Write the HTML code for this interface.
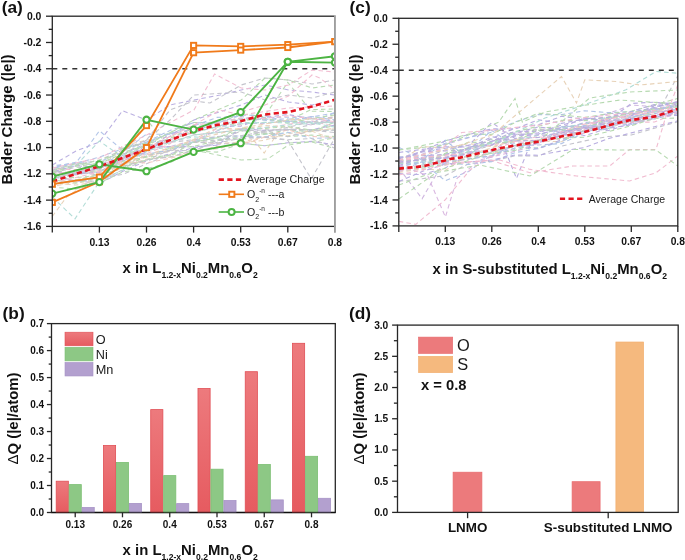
<!DOCTYPE html>
<html><head><meta charset="utf-8"><style>
html,body{margin:0;padding:0;background:#fff;overflow:hidden}
svg{display:block;will-change:transform}
text{font-family:"Liberation Sans",sans-serif}
</style></head><body>
<svg width="685" height="560" viewBox="0 0 685 560" font-family="Liberation Sans, sans-serif">
<rect width="685" height="560" fill="#fff"/>
<clipPath id="cp11"><rect x="52.3" y="16.2" width="282.60" height="210.20"/></clipPath>
<g clip-path="url(#cp11)">
<g fill="none" stroke-width="1.1" stroke-dasharray="4.5 3.2" opacity="0.58">
<polyline points="52.3,170.7 75.8,173.1 99.4,164.6 122.9,157.8 146.5,143.7 170.0,132.5 193.6,122.5 217.1,122.4 240.7,119.2 264.2,119.7 287.8,120.6 311.3,109.6 334.9,109.0" stroke="#86c07c" stroke-dashoffset="2.5"/>
<polyline points="52.3,173.2 75.8,175.0 99.4,169.6 122.9,145.6 146.5,140.1 170.0,136.8 193.6,128.4 217.1,124.7 240.7,124.6 264.2,153.0 287.8,118.4 311.3,122.4 334.9,116.1" stroke="#d8b488" stroke-dashoffset="1.5"/>
<polyline points="52.3,172.6 75.8,165.3 99.4,167.8 122.9,158.1 146.5,148.5 170.0,146.6 193.6,140.4 217.1,130.9 240.7,123.3 264.2,123.6 287.8,121.0 311.3,125.0 334.9,117.1" stroke="#b088cc" stroke-dashoffset="6.6"/>
<polyline points="52.3,176.1 75.8,174.3 99.4,171.8 122.9,163.1 146.5,151.8 170.0,141.9 193.6,136.8 217.1,139.2 240.7,136.3 264.2,134.4 287.8,132.8 311.3,130.1 334.9,130.1" stroke="#7cc4ba" stroke-dashoffset="5.3"/>
<polyline points="52.3,170.6 75.8,166.3 99.4,163.3 122.9,153.9 146.5,146.1 170.0,138.4 193.6,128.2 217.1,123.1 240.7,114.0 264.2,116.6 287.8,82.4 311.3,111.2 334.9,111.5" stroke="#86c07c" stroke-dashoffset="7.5"/>
<polyline points="52.3,176.9 75.8,180.7 99.4,183.5 122.9,171.3 146.5,160.9 170.0,153.7 193.6,147.8 217.1,144.1 240.7,142.9 264.2,145.8 287.8,142.8 311.3,141.4 334.9,144.7" stroke="#8a78cc" stroke-dashoffset="5.3"/>
<polyline points="52.3,171.9 75.8,165.6 99.4,167.9 122.9,161.0 146.5,150.8 170.0,133.8 193.6,129.3 217.1,125.9 240.7,126.2 264.2,117.6 287.8,114.5 311.3,118.6 334.9,117.5" stroke="#8a78cc" stroke-dashoffset="4.7"/>
<polyline points="52.3,173.3 75.8,172.7 99.4,172.6 122.9,163.7 146.5,155.6 170.0,147.8 193.6,141.5 217.1,128.4 240.7,129.6 264.2,128.3 287.8,124.4 311.3,120.8 334.9,126.6" stroke="#e890b2" stroke-dashoffset="1.3"/>
<polyline points="52.3,187.1 75.8,189.1 99.4,183.0 122.9,171.8 146.5,168.7 170.0,162.7 193.6,151.0 217.1,152.1 240.7,143.4 264.2,145.7 287.8,143.1 311.3,141.8 334.9,148.5" stroke="#86c07c" stroke-dashoffset="0.8"/>
<polyline points="52.3,186.1 75.8,182.6 99.4,181.1 122.9,165.4 146.5,156.4 170.0,151.1 193.6,141.6 217.1,143.6 240.7,142.2 264.2,137.0 287.8,135.8 311.3,131.5 334.9,128.7" stroke="#d8b488" stroke-dashoffset="2.9"/>
<polyline points="52.3,181.9 75.8,180.1 99.4,173.7 122.9,160.0 146.5,157.4 170.0,149.8 193.6,139.4 217.1,127.9 240.7,129.3 264.2,125.6 287.8,126.9 311.3,130.7 334.9,128.5" stroke="#d8b488" stroke-dashoffset="6.7"/>
<polyline points="52.3,174.8 75.8,171.3 99.4,171.0 122.9,161.2 146.5,157.1 170.0,155.7 193.6,142.6 217.1,137.8 240.7,130.5 264.2,134.3 287.8,129.8 311.3,131.6 334.9,122.2" stroke="#86c07c" stroke-dashoffset="6.6"/>
<polyline points="52.3,183.0 75.8,185.0 99.4,181.9 122.9,166.5 146.5,159.0 170.0,157.1 193.6,150.9 217.1,148.8 240.7,142.9 264.2,140.3 287.8,133.6 311.3,131.0 334.9,139.6" stroke="#d8b488" stroke-dashoffset="1.5"/>
<polyline points="52.3,168.3 75.8,165.6 99.4,141.0 122.9,157.6 146.5,142.2 170.0,133.4 193.6,125.5 217.1,127.0 240.7,122.5 264.2,122.8 287.8,120.7 311.3,122.0 334.9,123.1" stroke="#7cc4ba" stroke-dashoffset="6.6"/>
<polyline points="52.3,168.5 75.8,163.3 99.4,157.1 122.9,148.6 146.5,142.1 170.0,133.8 193.6,126.0 217.1,117.4 240.7,116.4 264.2,120.2 287.8,121.8 311.3,122.3 334.9,112.7" stroke="#7c9cd8" stroke-dashoffset="4.9"/>
<polyline points="52.3,183.9 75.8,180.4 99.4,178.3 122.9,174.4 146.5,163.8 170.0,154.5 193.6,142.0 217.1,140.0 240.7,137.4 264.2,137.3 287.8,140.3 311.3,178.9 334.9,137.9" stroke="#9a9aa8" stroke-dashoffset="3.5"/>
<polyline points="52.3,178.0 75.8,173.3 99.4,171.6 122.9,162.0 146.5,162.9 170.0,158.3 193.6,151.9 217.1,146.4 240.7,144.7 264.2,137.2 287.8,129.8 311.3,136.5 334.9,137.3" stroke="#e8a090" stroke-dashoffset="1.6"/>
<polyline points="52.3,167.0 75.8,162.2 99.4,161.9 122.9,152.0 146.5,134.1 170.0,134.4 193.6,132.9 217.1,121.7 240.7,118.6 264.2,117.5 287.8,117.2 311.3,117.1 334.9,112.9" stroke="#7c9cd8" stroke-dashoffset="2.9"/>
<polyline points="52.3,171.2 75.8,174.2 99.4,172.3 122.9,158.3 146.5,147.0 170.0,146.5 193.6,146.8 217.1,145.3 240.7,128.7 264.2,130.4 287.8,129.7 311.3,129.8 334.9,125.1" stroke="#8a78cc" stroke-dashoffset="2.1"/>
<polyline points="52.3,184.7 75.8,179.7 99.4,181.6 122.9,169.8 146.5,159.6 170.0,157.0 193.6,150.5 217.1,142.2 240.7,130.9 264.2,129.9 287.8,129.9 311.3,124.7 334.9,119.9" stroke="#9a9aa8" stroke-dashoffset="0.4"/>
<polyline points="52.3,177.4 75.8,177.6 99.4,175.3 122.9,167.9 146.5,156.0 170.0,148.3 193.6,146.5 217.1,140.5 240.7,137.6 264.2,133.3 287.8,136.5 311.3,135.1 334.9,136.6" stroke="#86c07c" stroke-dashoffset="5.8"/>
<polyline points="52.3,167.7 75.8,163.3 99.4,130.8 122.9,150.3 146.5,142.1 170.0,130.4 193.6,122.7 217.1,123.2 240.7,115.2 264.2,115.5 287.8,121.8 311.3,116.5 334.9,119.9" stroke="#7c9cd8" stroke-dashoffset="3.3"/>
<polyline points="52.3,175.4 75.8,171.5 99.4,175.2 122.9,163.4 146.5,155.6 170.0,151.3 193.6,142.2 217.1,143.1 240.7,138.3 264.2,130.8 287.8,129.1 311.3,129.9 334.9,132.6" stroke="#9a9aa8" stroke-dashoffset="6.8"/>
<polyline points="52.3,175.9 75.8,171.7 99.4,168.9 122.9,155.2 146.5,154.0 170.0,150.4 193.6,141.5 217.1,136.6 240.7,135.9 264.2,137.3 287.8,132.2 311.3,138.3 334.9,137.9" stroke="#7c9cd8" stroke-dashoffset="4.3"/>
<polyline points="52.3,165.6 75.8,163.6 99.4,165.0 122.9,154.5 146.5,143.2 170.0,139.2 193.6,132.7 217.1,126.7 240.7,119.2 264.2,119.2 287.8,119.0 311.3,118.6 334.9,121.2" stroke="#7c9cd8" stroke-dashoffset="3.5"/>
<polyline points="52.3,174.7 75.8,181.0 99.4,178.8 122.9,166.2 146.5,160.2 170.0,150.1 193.6,151.0 217.1,140.4 240.7,139.2 264.2,136.8 287.8,139.8 311.3,138.5 334.9,148.2" stroke="#9a9aa8" stroke-dashoffset="1.6"/>
<polyline points="52.3,179.6 75.8,183.2 99.4,177.4 122.9,159.7 146.5,119.3 170.0,148.3 193.6,142.1 217.1,137.8 240.7,128.1 264.2,128.5 287.8,126.6 311.3,130.1 334.9,125.7" stroke="#86c07c" stroke-dashoffset="2.0"/>
<polyline points="52.3,170.4 75.8,163.6 99.4,164.2 122.9,148.1 146.5,143.0 170.0,139.8 193.6,132.3 217.1,126.8 240.7,121.0 264.2,118.1 287.8,123.1 311.3,118.6 334.9,114.9" stroke="#86c07c" stroke-dashoffset="4.0"/>
<polyline points="52.3,179.4 75.8,170.6 99.4,167.9 122.9,157.4 146.5,150.0 170.0,147.2 193.6,142.3 217.1,130.3 240.7,123.9 264.2,122.3 287.8,122.9 311.3,122.8 334.9,127.1" stroke="#7cc4ba" stroke-dashoffset="3.8"/>
<polyline points="52.3,173.1 75.8,167.2 99.4,168.7 122.9,157.3 146.5,145.9 170.0,142.3 193.6,139.7 217.1,136.5 240.7,135.8 264.2,131.5 287.8,136.7 311.3,130.8 334.9,130.1" stroke="#9a9aa8" stroke-dashoffset="5.8"/>
<polyline points="52.3,178.3 75.8,172.9 99.4,167.0 122.9,159.0 146.5,145.4 170.0,142.1 193.6,134.9 217.1,132.7 240.7,129.5 264.2,132.9 287.8,127.3 311.3,121.6 334.9,122.5" stroke="#9a9aa8" stroke-dashoffset="6.3"/>
<polyline points="52.3,169.1 75.8,169.5 99.4,171.2 122.9,160.1 146.5,153.7 170.0,143.7 193.6,124.8 217.1,122.8 240.7,117.9 264.2,118.5 287.8,115.9 311.3,118.4 334.9,121.6" stroke="#e890b2" stroke-dashoffset="1.8"/>
<polyline points="52.3,165 76,151 99.3,142 122.5,110.7 146.6,120 170,105 193.9,100 220,95 241.2,90 265,85 288.5,90 312,92 335,95" stroke="#8a78cc"/>
<polyline points="52.3,197 75,218.8 100.6,180 123,170 146.6,150 193.9,135 241.2,130 288.5,125 335,122" stroke="#7cc4ba"/>
<polyline points="52.3,216.4 66.6,197 99.3,175 146.6,155 193.9,140 241.2,128 288.5,120 335,118" stroke="#d8b488"/>
<polyline points="52.3,170 99.3,160 146.6,140 170,110 193.9,101 210,103 241.2,85 265,78 288.5,80 312,84 335,80" stroke="#9a9aa8"/>
<polyline points="52.3,168 99.3,158 146.6,135 193.9,110 214.6,74 241.2,88 265,90 288.5,85 312,70 335,72" stroke="#e890b2"/>
<polyline points="52.3,172 99.3,160 146.6,145 193.9,120 241.2,100 265,78 288.5,80 312,88 335,85" stroke="#86c07c"/>
<polyline points="52.3,185 99.3,175 146.6,160 193.9,150 241.2,160 267.7,159 288.5,145 335,138" stroke="#86c07c"/>
<polyline points="52.3,175 99.3,165 146.6,150 193.9,130 241.2,112 265,105 288.5,96 312,75 320,78 335,90" stroke="#e890b2"/>
<polyline points="52.3,178 99.3,170 146.6,140 170,120 193.9,95 241.2,92 265,100 288.5,95 312,98 335,92" stroke="#9a9aa8"/>
<polyline points="52.3,180 99.3,168 146.6,152 193.9,120 241.2,105 265,95 288.5,102 312,105 335,100" stroke="#8a78cc"/>
<polyline points="52.3,183 99.3,172 146.6,148 193.9,125 220,110 241.2,115 288.5,108 335,106" stroke="#e890b2"/>
</g>
<line x1="52.30" y1="68.75" x2="334.90" y2="68.75" stroke="#333" stroke-width="1.5" stroke-dasharray="5 5"/>
<polyline points="52.3,184.1 99.4,177.1 146.5,125.6 193.6,45.4 240.7,46.4 287.8,44.6 334.9,41.6" fill="none" stroke="#f07a1a" stroke-width="1.8"/>
<polyline points="52.3,202.4 99.4,181.7 146.5,147.6 193.6,52.7 240.7,50.1 287.8,47.5 334.9,41.6" fill="none" stroke="#f07a1a" stroke-width="1.8"/>
<polyline points="52.3,176.6 99.4,164.3 146.5,171.2 193.6,151.9 240.7,143.2 287.8,61.8 334.9,62.6" fill="none" stroke="#4cb443" stroke-width="1.9"/>
<polyline points="52.3,193.6 99.4,182.1 146.5,119.7 193.6,129.6 240.7,112.1 287.8,61.8 334.9,56.3" fill="none" stroke="#4cb443" stroke-width="1.9"/>
<polyline points="52.3,181.5 99.3,166.4 146.6,149.2 193.9,131 217.5,124.8 241.2,121 265,114.5 288.5,112 312,106.5 335,99.7" fill="none" stroke="#e3141f" stroke-width="2.6" stroke-dasharray="5.2 3.4"/>
<rect x="49.7" y="181.5" width="5.2" height="5.2" fill="#fff" stroke="#f07a1a" stroke-width="1.9"/>
<rect x="96.8" y="174.5" width="5.2" height="5.2" fill="#fff" stroke="#f07a1a" stroke-width="1.9"/>
<rect x="143.9" y="123.0" width="5.2" height="5.2" fill="#fff" stroke="#f07a1a" stroke-width="1.9"/>
<rect x="191.0" y="42.8" width="5.2" height="5.2" fill="#fff" stroke="#f07a1a" stroke-width="1.9"/>
<rect x="238.1" y="43.8" width="5.2" height="5.2" fill="#fff" stroke="#f07a1a" stroke-width="1.9"/>
<rect x="285.2" y="42.0" width="5.2" height="5.2" fill="#fff" stroke="#f07a1a" stroke-width="1.9"/>
<rect x="332.3" y="39.0" width="5.2" height="5.2" fill="#fff" stroke="#f07a1a" stroke-width="1.9"/>
<rect x="49.7" y="199.8" width="5.2" height="5.2" fill="#fff" stroke="#f07a1a" stroke-width="1.9"/>
<rect x="96.8" y="179.1" width="5.2" height="5.2" fill="#fff" stroke="#f07a1a" stroke-width="1.9"/>
<rect x="143.9" y="145.0" width="5.2" height="5.2" fill="#fff" stroke="#f07a1a" stroke-width="1.9"/>
<rect x="191.0" y="50.1" width="5.2" height="5.2" fill="#fff" stroke="#f07a1a" stroke-width="1.9"/>
<rect x="238.1" y="47.5" width="5.2" height="5.2" fill="#fff" stroke="#f07a1a" stroke-width="1.9"/>
<rect x="285.2" y="44.9" width="5.2" height="5.2" fill="#fff" stroke="#f07a1a" stroke-width="1.9"/>
<rect x="332.3" y="39.0" width="5.2" height="5.2" fill="#fff" stroke="#f07a1a" stroke-width="1.9"/>
<circle cx="52.3" cy="176.6" r="3.1" fill="#fff" stroke="#4cb443" stroke-width="2.1"/>
<circle cx="99.4" cy="164.3" r="3.1" fill="#fff" stroke="#4cb443" stroke-width="2.1"/>
<circle cx="146.5" cy="171.2" r="3.1" fill="#fff" stroke="#4cb443" stroke-width="2.1"/>
<circle cx="193.6" cy="151.9" r="3.1" fill="#fff" stroke="#4cb443" stroke-width="2.1"/>
<circle cx="240.7" cy="143.2" r="3.1" fill="#fff" stroke="#4cb443" stroke-width="2.1"/>
<circle cx="287.8" cy="61.8" r="3.1" fill="#fff" stroke="#4cb443" stroke-width="2.1"/>
<circle cx="334.9" cy="62.6" r="3.1" fill="#fff" stroke="#4cb443" stroke-width="2.1"/>
<circle cx="52.3" cy="193.6" r="3.1" fill="#fff" stroke="#4cb443" stroke-width="2.1"/>
<circle cx="99.4" cy="182.1" r="3.1" fill="#fff" stroke="#4cb443" stroke-width="2.1"/>
<circle cx="146.5" cy="119.7" r="3.1" fill="#fff" stroke="#4cb443" stroke-width="2.1"/>
<circle cx="193.6" cy="129.6" r="3.1" fill="#fff" stroke="#4cb443" stroke-width="2.1"/>
<circle cx="240.7" cy="112.1" r="3.1" fill="#fff" stroke="#4cb443" stroke-width="2.1"/>
<circle cx="287.8" cy="61.8" r="3.1" fill="#fff" stroke="#4cb443" stroke-width="2.1"/>
<circle cx="334.9" cy="56.3" r="3.1" fill="#fff" stroke="#4cb443" stroke-width="2.1"/>
</g>
<rect x="52.3" y="16.2" width="282.60" height="210.20" fill="none" stroke="#262626" stroke-width="1.3"/>
<line x1="46.00" y1="16.20" x2="52.30" y2="16.20" stroke="#262626" stroke-width="1.3" />
<text x="41.40" y="19.75" font-size="10.4" font-weight="bold" text-anchor="end" fill="#111" >0.0</text>
<line x1="48.70" y1="29.34" x2="52.30" y2="29.34" stroke="#262626" stroke-width="1.3" />
<line x1="46.00" y1="42.48" x2="52.30" y2="42.48" stroke="#262626" stroke-width="1.3" />
<text x="41.40" y="46.02" font-size="10.4" font-weight="bold" text-anchor="end" fill="#111" >-0.2</text>
<line x1="48.70" y1="55.61" x2="52.30" y2="55.61" stroke="#262626" stroke-width="1.3" />
<line x1="46.00" y1="68.75" x2="52.30" y2="68.75" stroke="#262626" stroke-width="1.3" />
<text x="41.40" y="72.30" font-size="10.4" font-weight="bold" text-anchor="end" fill="#111" >-0.4</text>
<line x1="48.70" y1="81.89" x2="52.30" y2="81.89" stroke="#262626" stroke-width="1.3" />
<line x1="46.00" y1="95.03" x2="52.30" y2="95.03" stroke="#262626" stroke-width="1.3" />
<text x="41.40" y="98.58" font-size="10.4" font-weight="bold" text-anchor="end" fill="#111" >-0.6</text>
<line x1="48.70" y1="108.16" x2="52.30" y2="108.16" stroke="#262626" stroke-width="1.3" />
<line x1="46.00" y1="121.30" x2="52.30" y2="121.30" stroke="#262626" stroke-width="1.3" />
<text x="41.40" y="124.85" font-size="10.4" font-weight="bold" text-anchor="end" fill="#111" >-0.8</text>
<line x1="48.70" y1="134.44" x2="52.30" y2="134.44" stroke="#262626" stroke-width="1.3" />
<line x1="46.00" y1="147.57" x2="52.30" y2="147.57" stroke="#262626" stroke-width="1.3" />
<text x="41.40" y="151.12" font-size="10.4" font-weight="bold" text-anchor="end" fill="#111" >-1.0</text>
<line x1="48.70" y1="160.71" x2="52.30" y2="160.71" stroke="#262626" stroke-width="1.3" />
<line x1="46.00" y1="173.85" x2="52.30" y2="173.85" stroke="#262626" stroke-width="1.3" />
<text x="41.40" y="177.40" font-size="10.4" font-weight="bold" text-anchor="end" fill="#111" >-1.2</text>
<line x1="48.70" y1="186.99" x2="52.30" y2="186.99" stroke="#262626" stroke-width="1.3" />
<line x1="46.00" y1="200.12" x2="52.30" y2="200.12" stroke="#262626" stroke-width="1.3" />
<text x="41.40" y="203.68" font-size="10.4" font-weight="bold" text-anchor="end" fill="#111" >-1.4</text>
<line x1="48.70" y1="213.26" x2="52.30" y2="213.26" stroke="#262626" stroke-width="1.3" />
<line x1="46.00" y1="226.40" x2="52.30" y2="226.40" stroke="#262626" stroke-width="1.3" />
<text x="41.40" y="229.95" font-size="10.4" font-weight="bold" text-anchor="end" fill="#111" >-1.6</text>
<line x1="52.30" y1="226.40" x2="52.30" y2="232.60" stroke="#262626" stroke-width="1.3" />
<line x1="99.40" y1="226.40" x2="99.40" y2="232.60" stroke="#262626" stroke-width="1.3" />
<text x="99.40" y="245.50" font-size="10.3" font-weight="bold" text-anchor="middle" fill="#111" >0.13</text>
<line x1="146.50" y1="226.40" x2="146.50" y2="232.60" stroke="#262626" stroke-width="1.3" />
<text x="146.50" y="245.50" font-size="10.3" font-weight="bold" text-anchor="middle" fill="#111" >0.26</text>
<line x1="193.60" y1="226.40" x2="193.60" y2="232.60" stroke="#262626" stroke-width="1.3" />
<text x="193.60" y="245.50" font-size="10.3" font-weight="bold" text-anchor="middle" fill="#111" >0.4</text>
<line x1="240.70" y1="226.40" x2="240.70" y2="232.60" stroke="#262626" stroke-width="1.3" />
<text x="240.70" y="245.50" font-size="10.3" font-weight="bold" text-anchor="middle" fill="#111" >0.53</text>
<line x1="287.80" y1="226.40" x2="287.80" y2="232.60" stroke="#262626" stroke-width="1.3" />
<text x="287.80" y="245.50" font-size="10.3" font-weight="bold" text-anchor="middle" fill="#111" >0.67</text>
<line x1="334.90" y1="226.40" x2="334.90" y2="232.60" stroke="#262626" stroke-width="1.3" />
<text x="334.90" y="245.50" font-size="10.3" font-weight="bold" text-anchor="middle" fill="#111" >0.8</text>
<line x1="334.90" y1="15.60" x2="334.90" y2="232.60" stroke="#fff" stroke-width="1.5" />
<line x1="334.90" y1="15.60" x2="334.90" y2="232.60" stroke="#8c8c8c" stroke-width="1.4" />
<line x1="218.70" y1="179.60" x2="241.30" y2="179.60" stroke="#e3141f" stroke-width="2.6" stroke-dasharray="5.2 3.4"/>
<text x="247.00" y="183.40" font-size="10.7" font-weight="normal" text-anchor="start" fill="#1a1a1a" >Average Charge</text>
<line x1="218.70" y1="194.30" x2="244.00" y2="194.30" stroke="#f07a1a" stroke-width="1.6" />
<rect x="229.20000000000002" y="191.70000000000002" width="5.2" height="5.2" fill="#fff" stroke="#f07a1a" stroke-width="1.9"/>
<line x1="218.70" y1="212.00" x2="244.00" y2="212.00" stroke="#4cb443" stroke-width="1.6" />
<circle cx="231.6" cy="212" r="3.0" fill="#fff" stroke="#4cb443" stroke-width="2.0"/>
<text x="247" y="198.2" font-size="10.6" fill="#1a1a1a">O<tspan font-size="7" dy="3.6">2</tspan><tspan font-size="6.5" dy="-8.8">-n</tspan><tspan dy="5.2"> ---a</tspan></text>
<text x="247" y="215.8" font-size="10.6" fill="#1a1a1a">O<tspan font-size="7" dy="3.6">2</tspan><tspan font-size="6.5" dy="-8.8">-n</tspan><tspan dy="5.2"> ---b</tspan></text>
<clipPath id="cp23"><rect x="398.8" y="18.3" width="279.00" height="207.60"/></clipPath>
<g clip-path="url(#cp23)">
<g fill="none" stroke-width="1.1" stroke-dasharray="4.5 3.2" opacity="0.6">
<polyline points="398.8,163.4 422.1,163.0 445.3,155.0 468.6,152.2 491.8,145.2 515.0,135.4 538.3,129.9 561.5,127.9 584.8,127.8 608.0,126.4 631.3,121.8 654.5,119.1 677.8,107.1" stroke="#9a9aa8"/>
<polyline points="398.8,158.0 422.1,151.7 445.3,144.4 468.6,137.8 491.8,129.6 515.0,133.4 538.3,129.0 561.5,132.2 584.8,127.6 608.0,113.6 631.3,105.1 654.5,106.6 677.8,102.6" stroke="#b088cc"/>
<polyline points="398.8,173.6 422.1,174.6 445.3,168.0 468.6,154.5 491.8,141.3 515.0,134.3 538.3,134.0 561.5,129.3 584.8,135.7 608.0,128.2 631.3,124.9 654.5,117.8 677.8,111.0" stroke="#8a78cc"/>
<polyline points="398.8,161.4 422.1,159.2 445.3,154.4 468.6,148.6 491.8,139.2 515.0,140.1 538.3,127.9 561.5,126.9 584.8,126.4 608.0,122.1 631.3,117.9 654.5,111.7 677.8,111.8" stroke="#86c07c"/>
<polyline points="398.8,161.0 422.1,157.7 445.3,157.3 468.6,153.4 491.8,141.3 515.0,131.2 538.3,131.5 561.5,128.3 584.8,123.3 608.0,124.2 631.3,113.6 654.5,110.4 677.8,115.7" stroke="#8a78cc"/>
<polyline points="398.8,171.0 422.1,168.3 445.3,162.6 468.6,151.2 491.8,153.0 515.0,149.5 538.3,147.6 561.5,141.4 584.8,131.5 608.0,128.6 631.3,119.3 654.5,117.8 677.8,113.2" stroke="#7cc4ba"/>
<polyline points="398.8,158.3 422.1,154.4 445.3,143.2 468.6,137.4 491.8,132.1 515.0,121.9 538.3,114.6 561.5,114.6 584.8,110.7 608.0,112.6 631.3,111.7 654.5,108.5 677.8,105.0" stroke="#7c9cd8"/>
<polyline points="398.8,168.0 422.1,198.7 445.3,159.2 468.6,151.7 491.8,149.7 515.0,139.0 538.3,135.4 561.5,133.8 584.8,127.7 608.0,117.3 631.3,115.5 654.5,107.9 677.8,108.7" stroke="#b088cc"/>
<polyline points="398.8,161.5 422.1,146.5 445.3,148.0 468.6,143.6 491.8,146.7 515.0,140.7 538.3,140.3 561.5,133.1 584.8,125.3 608.0,117.4 631.3,117.4 654.5,114.0 677.8,103.3" stroke="#d8b488"/>
<polyline points="398.8,181.3 422.1,178.7 445.3,175.6 468.6,163.7 491.8,161.2 515.0,155.8 538.3,156.1 561.5,146.1 584.8,140.9 608.0,136.5 631.3,135.0 654.5,128.2 677.8,121.8" stroke="#9a9aa8"/>
<polyline points="398.8,172.5 422.1,168.8 445.3,170.4 468.6,154.9 491.8,148.0 515.0,139.1 538.3,141.0 561.5,141.8 584.8,129.5 608.0,126.7 631.3,114.6 654.5,110.6 677.8,112.1" stroke="#d8b488"/>
<polyline points="398.8,167.1 422.1,160.9 445.3,157.8 468.6,147.4 491.8,142.0 515.0,143.3 538.3,142.3 561.5,130.8 584.8,127.8 608.0,123.8 631.3,124.5 654.5,116.4 677.8,108.9" stroke="#7c9cd8"/>
<polyline points="398.8,156.8 422.1,157.5 445.3,154.5 468.6,150.3 491.8,130.5 515.0,146.4 538.3,140.4 561.5,132.6 584.8,127.7 608.0,121.4 631.3,115.7 654.5,107.2 677.8,101.5" stroke="#7c9cd8"/>
<polyline points="398.8,171.6 422.1,161.7 445.3,163.3 468.6,164.4 491.8,161.6 515.0,152.7 538.3,148.6 561.5,141.2 584.8,131.8 608.0,125.4 631.3,119.9 654.5,118.9 677.8,113.6" stroke="#7c9cd8"/>
<polyline points="398.8,181.6 422.1,171.5 445.3,164.1 468.6,162.1 491.8,160.0 515.0,155.0 538.3,155.2 561.5,151.0 584.8,147.5 608.0,138.7 631.3,132.9 654.5,126.7 677.8,120.9" stroke="#8a78cc"/>
<polyline points="398.8,152.5 422.1,149.4 445.3,146.7 468.6,147.0 491.8,144.8 515.0,133.0 538.3,126.9 561.5,130.1 584.8,122.4 608.0,121.6 631.3,119.1 654.5,113.6 677.8,108.4" stroke="#8a78cc"/>
<polyline points="398.8,160.8 422.1,151.9 445.3,150.9 468.6,149.7 491.8,138.3 515.0,128.2 538.3,124.7 561.5,116.3 584.8,119.3 608.0,117.7 631.3,112.5 654.5,107.6 677.8,101.6" stroke="#8a78cc"/>
<polyline points="398.8,171.3 422.1,167.2 445.3,157.0 468.6,149.1 491.8,144.9 515.0,140.9 538.3,136.8 561.5,139.6 584.8,129.3 608.0,125.6 631.3,122.4 654.5,122.0 677.8,112.6" stroke="#e890b2"/>
<polyline points="398.8,160.4 422.1,160.9 445.3,153.3 468.6,142.1 491.8,143.0 515.0,131.8 538.3,126.3 561.5,120.4 584.8,120.6 608.0,117.0 631.3,113.7 654.5,110.3 677.8,106.1" stroke="#86c07c"/>
<polyline points="398.8,165.4 422.1,158.0 445.3,150.0 468.6,145.4 491.8,122.5 515.0,138.4 538.3,137.5 561.5,131.9 584.8,126.3 608.0,129.3 631.3,115.8 654.5,105.5 677.8,105.6" stroke="#8a78cc"/>
<polyline points="398.8,159.0 422.1,151.2 445.3,148.2 468.6,145.2 491.8,141.3 515.0,135.8 538.3,132.8 561.5,125.0 584.8,119.6 608.0,113.3 631.3,114.0 654.5,109.2 677.8,106.4" stroke="#8a78cc"/>
<polyline points="398.8,162.5 422.1,159.5 445.3,162.4 468.6,159.0 491.8,156.0 515.0,145.2 538.3,148.8 561.5,139.7 584.8,130.8 608.0,120.1 631.3,120.8 654.5,116.6 677.8,115.2" stroke="#8a78cc"/>
<polyline points="398.8,163.4 422.1,163.0 445.3,154.3 468.6,149.3 491.8,143.0 515.0,140.8 538.3,135.2 561.5,127.9 584.8,123.6 608.0,117.0 631.3,121.2 654.5,112.2 677.8,102.8" stroke="#7cc4ba"/>
<polyline points="398.8,162.3 422.1,155.3 445.3,158.7 468.6,153.6 491.8,157.0 515.0,148.1 538.3,141.8 561.5,134.9 584.8,126.7 608.0,118.0 631.3,117.4 654.5,110.8 677.8,101.7" stroke="#e890b2"/>
<polyline points="398.8,167.7 422.1,165.8 445.3,153.9 468.6,147.7 491.8,143.0 515.0,142.0 538.3,130.2 561.5,129.9 584.8,128.7 608.0,118.8 631.3,112.6 654.5,109.0 677.8,106.9" stroke="#86c07c"/>
<polyline points="398.8,169.8 422.1,166.8 445.3,165.0 468.6,157.1 491.8,153.3 515.0,150.4 538.3,141.4 561.5,138.2 584.8,137.2 608.0,131.7 631.3,125.7 654.5,118.4 677.8,118.1" stroke="#86c07c"/>
<polyline points="398.8,166.5 422.1,162.3 445.3,180.7 468.6,171.4 491.8,154.7 515.0,145.5 538.3,145.0 561.5,143.6 584.8,132.5 608.0,125.0 631.3,117.5 654.5,110.4 677.8,104.9" stroke="#7c9cd8"/>
<polyline points="398.8,166.0 422.1,157.8 445.3,158.4 468.6,148.3 491.8,136.7 515.0,141.0 538.3,140.5 561.5,133.0 584.8,127.1 608.0,130.7 631.3,123.3 654.5,115.5 677.8,111.5" stroke="#8a78cc"/>
<polyline points="398.8,157.5 422.1,155.7 445.3,154.5 468.6,148.3 491.8,145.0 515.0,136.0 538.3,134.8 561.5,127.4 584.8,117.9 608.0,121.0 631.3,103.5 654.5,102.1 677.8,104.5" stroke="#8a78cc"/>
<polyline points="398.8,149.9 422.1,145.6 445.3,140.8 468.6,134.0 491.8,134.4 515.0,122.5 538.3,113.3 561.5,115.0 584.8,117.4 608.0,113.8 631.3,111.3 654.5,104.7 677.8,98.4" stroke="#86c07c"/>
<polyline points="398.8,160.5 422.1,157.9 445.3,155.1 468.6,153.5 491.8,150.6 515.0,141.4 538.3,143.7 561.5,135.4 584.8,133.1 608.0,121.1 631.3,118.7 654.5,118.1 677.8,112.7" stroke="#e890b2"/>
<polyline points="398.8,147.2 422.1,160.2 445.3,140.3 468.6,158.7 491.8,155.6 515.0,148.1 538.3,143.1 561.5,126.7 584.8,125.6 608.0,126.7 631.3,117.0 654.5,111.9 677.8,109.4" stroke="#7c9cd8"/>
<polyline points="398.8,163.1 422.1,159.0 445.3,160.8 468.6,159.3 491.8,151.8 515.0,145.5 538.3,139.8 561.5,135.7 584.8,131.0 608.0,122.2 631.3,122.1 654.5,119.1 677.8,75.7" stroke="#9a9aa8"/>
<polyline points="398.8,161.0 422.1,151.1 445.3,141.0 468.6,134.5 491.8,128.9 515.0,128.9 538.3,119.8 561.5,123.4 584.8,118.8 608.0,117.5 631.3,111.5 654.5,104.5 677.8,102.3" stroke="#8a78cc"/>
<polyline points="398.8,150 445,145 480,130 498.7,122.2 515,98.5 522.4,122.2 545,112 580,106 620,100 677.8,104" stroke="#86c07c"/>
<polyline points="398.8,160 445,150 492,135 510,120 530,103 561.5,76.5 576.5,103 584.8,79.8 616,81.5 640,85 677.8,81.5" stroke="#d8b488"/>
<polyline points="398.8,170 445,160 500,140 545,118 579.8,106.4 626,89.8 656,71.5 677.8,73.2" stroke="#7cc4ba"/>
<polyline points="398.8,221.4 415.8,224.3 445,200 470,170 500,150 540,140 580,125 630,115 677.8,110" stroke="#e890b2"/>
<polyline points="398.8,165 427.6,175.5 445.4,217 457,178.4 480,160 520,150 560,135 600,125 640,118 677.8,112" stroke="#c088cc"/>
<polyline points="398.8,162 445,158 490,150 505,150 516.5,178.4 530,145 580,130 620,120 677.8,113" stroke="#8a78cc"/>
<polyline points="398.8,160 440,150 461.7,132.5 483.9,131 510,128 540,125 580,118 640,112 677.8,108" stroke="#e890b2"/>
<polyline points="398.8,175 445,165 490,160 530,172.8 573,166 609.7,166 629.6,149.5 656,149.5 666,116 677.8,84.8" stroke="#e890b2"/>
<polyline points="398.8,168 445,163 500,160 530,169.4 576.5,176 629.6,181 656,172.8 677.8,156" stroke="#e890b2"/>
<polyline points="398.8,199 436.5,172.5 480,165 530,176 573,149.5 620,150 656,150 677.8,166" stroke="#86c07c"/>
<polyline points="398.8,185 440,170 500,150 540,140 589.7,98 630,92 677.8,90" stroke="#86c07c"/>
</g>
<line x1="398.80" y1="70.20" x2="677.80" y2="70.20" stroke="#333" stroke-width="1.5" stroke-dasharray="5 5"/>
<polyline points="398.8,168.6 417.7,166.9 426,165.6 443,161 451.3,158.8 460.1,157.6 468.4,155.8 485.5,151.5 502.5,147.7 519.4,144.7 536.5,141.9 545.2,140.1 562.3,136.3 579.1,133.4 596.2,129 612.4,124.2 629.4,120.3 646.5,117.9 655.2,116.4 663.5,113.8 677.8,108.9" fill="none" stroke="#e3141f" stroke-width="2.6" stroke-dasharray="5.2 3.4"/>
</g>
<rect x="398.8" y="18.3" width="279.00" height="207.60" fill="none" stroke="#262626" stroke-width="1.3"/>
<line x1="392.50" y1="18.30" x2="398.80" y2="18.30" stroke="#262626" stroke-width="1.3" />
<text x="387.90" y="21.85" font-size="10.4" font-weight="bold" text-anchor="end" fill="#111" >0.0</text>
<line x1="395.20" y1="31.27" x2="398.80" y2="31.27" stroke="#262626" stroke-width="1.3" />
<line x1="392.50" y1="44.25" x2="398.80" y2="44.25" stroke="#262626" stroke-width="1.3" />
<text x="387.90" y="47.80" font-size="10.4" font-weight="bold" text-anchor="end" fill="#111" >-0.2</text>
<line x1="395.20" y1="57.23" x2="398.80" y2="57.23" stroke="#262626" stroke-width="1.3" />
<line x1="392.50" y1="70.20" x2="398.80" y2="70.20" stroke="#262626" stroke-width="1.3" />
<text x="387.90" y="73.75" font-size="10.4" font-weight="bold" text-anchor="end" fill="#111" >-0.4</text>
<line x1="395.20" y1="83.17" x2="398.80" y2="83.17" stroke="#262626" stroke-width="1.3" />
<line x1="392.50" y1="96.15" x2="398.80" y2="96.15" stroke="#262626" stroke-width="1.3" />
<text x="387.90" y="99.70" font-size="10.4" font-weight="bold" text-anchor="end" fill="#111" >-0.6</text>
<line x1="395.20" y1="109.12" x2="398.80" y2="109.12" stroke="#262626" stroke-width="1.3" />
<line x1="392.50" y1="122.10" x2="398.80" y2="122.10" stroke="#262626" stroke-width="1.3" />
<text x="387.90" y="125.65" font-size="10.4" font-weight="bold" text-anchor="end" fill="#111" >-0.8</text>
<line x1="395.20" y1="135.07" x2="398.80" y2="135.07" stroke="#262626" stroke-width="1.3" />
<line x1="392.50" y1="148.05" x2="398.80" y2="148.05" stroke="#262626" stroke-width="1.3" />
<text x="387.90" y="151.60" font-size="10.4" font-weight="bold" text-anchor="end" fill="#111" >-1.0</text>
<line x1="395.20" y1="161.03" x2="398.80" y2="161.03" stroke="#262626" stroke-width="1.3" />
<line x1="392.50" y1="174.00" x2="398.80" y2="174.00" stroke="#262626" stroke-width="1.3" />
<text x="387.90" y="177.55" font-size="10.4" font-weight="bold" text-anchor="end" fill="#111" >-1.2</text>
<line x1="395.20" y1="186.97" x2="398.80" y2="186.97" stroke="#262626" stroke-width="1.3" />
<line x1="392.50" y1="199.95" x2="398.80" y2="199.95" stroke="#262626" stroke-width="1.3" />
<text x="387.90" y="203.50" font-size="10.4" font-weight="bold" text-anchor="end" fill="#111" >-1.4</text>
<line x1="395.20" y1="212.92" x2="398.80" y2="212.92" stroke="#262626" stroke-width="1.3" />
<line x1="392.50" y1="225.90" x2="398.80" y2="225.90" stroke="#262626" stroke-width="1.3" />
<text x="387.90" y="229.45" font-size="10.4" font-weight="bold" text-anchor="end" fill="#111" >-1.6</text>
<line x1="398.80" y1="225.90" x2="398.80" y2="232.10" stroke="#262626" stroke-width="1.3" />
<line x1="445.30" y1="225.90" x2="445.30" y2="232.10" stroke="#262626" stroke-width="1.3" />
<text x="445.30" y="245.00" font-size="10.3" font-weight="bold" text-anchor="middle" fill="#111" >0.13</text>
<line x1="491.80" y1="225.90" x2="491.80" y2="232.10" stroke="#262626" stroke-width="1.3" />
<text x="491.80" y="245.00" font-size="10.3" font-weight="bold" text-anchor="middle" fill="#111" >0.26</text>
<line x1="538.30" y1="225.90" x2="538.30" y2="232.10" stroke="#262626" stroke-width="1.3" />
<text x="538.30" y="245.00" font-size="10.3" font-weight="bold" text-anchor="middle" fill="#111" >0.4</text>
<line x1="584.80" y1="225.90" x2="584.80" y2="232.10" stroke="#262626" stroke-width="1.3" />
<text x="584.80" y="245.00" font-size="10.3" font-weight="bold" text-anchor="middle" fill="#111" >0.53</text>
<line x1="631.30" y1="225.90" x2="631.30" y2="232.10" stroke="#262626" stroke-width="1.3" />
<text x="631.30" y="245.00" font-size="10.3" font-weight="bold" text-anchor="middle" fill="#111" >0.67</text>
<line x1="677.80" y1="225.90" x2="677.80" y2="232.10" stroke="#262626" stroke-width="1.3" />
<text x="677.80" y="245.00" font-size="10.3" font-weight="bold" text-anchor="middle" fill="#111" >0.8</text>
<line x1="559.90" y1="198.70" x2="582.60" y2="198.70" stroke="#e3141f" stroke-width="2.6" stroke-dasharray="5.2 3.4"/>
<text x="588.80" y="203.00" font-size="10.5" font-weight="normal" text-anchor="start" fill="#1a1a1a" >Average Charge</text>
<text x="122.5" y="273.1" font-size="14.9" font-weight="bold" fill="#111">x in L<tspan font-size="8.6" dy="5">1.2-x</tspan><tspan dy="-5">Ni</tspan><tspan font-size="8.6" dy="5">0.2</tspan><tspan dy="-5">Mn</tspan><tspan font-size="8.6" dy="5">0.6</tspan><tspan dy="-5">O</tspan><tspan font-size="8.6" dy="5">2</tspan></text>
<text x="432.6" y="274.0" font-size="14.9" font-weight="bold" fill="#111">x in S-substituted L<tspan font-size="8.6" dy="5">1.2-x</tspan><tspan dy="-5">Ni</tspan><tspan font-size="8.6" dy="5">0.2</tspan><tspan dy="-5">Mn</tspan><tspan font-size="8.6" dy="5">0.6</tspan><tspan dy="-5">O</tspan><tspan font-size="8.6" dy="5">2</tspan></text>
<text x="122.6" y="554.6" font-size="14.9" font-weight="bold" fill="#111">x in L<tspan font-size="8.6" dy="5">1.2-x</tspan><tspan dy="-5">Ni</tspan><tspan font-size="8.6" dy="5">0.2</tspan><tspan dy="-5">Mn</tspan><tspan font-size="8.6" dy="5">0.6</tspan><tspan dy="-5">O</tspan><tspan font-size="8.6" dy="5">2</tspan></text>
<text transform="translate(11.9,119.4) rotate(-90)" font-size="15.1" font-weight="bold" text-anchor="middle" fill="#111">Bader Charge (|e|)</text>
<text transform="translate(360.4,119.4) rotate(-90)" font-size="15.1" font-weight="bold" text-anchor="middle" fill="#111">Bader Charge (|e|)</text>
<text transform="translate(17.9,418.5) rotate(-90)" font-size="14.9" font-weight="bold" text-anchor="middle" fill="#111"><tspan font-weight="normal">Δ</tspan>Q (|e|/atom)</text>
<text transform="translate(363.9,418.5) rotate(-90)" font-size="14.9" font-weight="bold" text-anchor="middle" fill="#111"><tspan font-weight="normal">Δ</tspan>Q (|e|/atom)</text>
<text x="1.70" y="12.90" font-size="17.3" font-weight="bold" text-anchor="start" fill="#111" >(a)</text>
<text x="349.60" y="12.90" font-size="17.3" font-weight="bold" text-anchor="start" fill="#111" >(c)</text>
<text x="2.60" y="318.50" font-size="17.3" font-weight="bold" text-anchor="start" fill="#111" >(b)</text>
<text x="349.00" y="318.50" font-size="17.3" font-weight="bold" text-anchor="start" fill="#111" >(d)</text>
<defs><linearGradient id="rg" x1="0" y1="0" x2="0" y2="1"><stop offset="0" stop-color="#ed7a7d"/><stop offset="1" stop-color="#e65b60"/></linearGradient></defs>
<rect x="51.5" y="323.6" width="283.80" height="188.90" fill="none" stroke="#262626" stroke-width="1.3"/>
<rect x="56.20" y="481.20" width="12.15" height="31.30" fill="url(#rg)" stroke="#e04f55" stroke-width="0.8"/>
<rect x="69.15" y="484.60" width="12.15" height="27.90" fill="#8dc885" stroke="#7cbf73" stroke-width="0.8"/>
<rect x="82.10" y="507.50" width="12.15" height="5.00" fill="#b3a0cf" stroke="#a793c6" stroke-width="0.8"/>
<rect x="103.46" y="445.50" width="12.15" height="67.00" fill="url(#rg)" stroke="#e04f55" stroke-width="0.8"/>
<rect x="116.41" y="462.40" width="12.15" height="50.10" fill="#8dc885" stroke="#7cbf73" stroke-width="0.8"/>
<rect x="129.36" y="503.40" width="12.15" height="9.10" fill="#b3a0cf" stroke="#a793c6" stroke-width="0.8"/>
<rect x="150.72" y="409.60" width="12.15" height="102.90" fill="url(#rg)" stroke="#e04f55" stroke-width="0.8"/>
<rect x="163.67" y="475.60" width="12.15" height="36.90" fill="#8dc885" stroke="#7cbf73" stroke-width="0.8"/>
<rect x="176.62" y="503.60" width="12.15" height="8.90" fill="#b3a0cf" stroke="#a793c6" stroke-width="0.8"/>
<rect x="197.98" y="388.50" width="12.15" height="124.00" fill="url(#rg)" stroke="#e04f55" stroke-width="0.8"/>
<rect x="210.93" y="469.20" width="12.15" height="43.30" fill="#8dc885" stroke="#7cbf73" stroke-width="0.8"/>
<rect x="223.88" y="500.50" width="12.15" height="12.00" fill="#b3a0cf" stroke="#a793c6" stroke-width="0.8"/>
<rect x="245.24" y="371.70" width="12.15" height="140.80" fill="url(#rg)" stroke="#e04f55" stroke-width="0.8"/>
<rect x="258.19" y="464.50" width="12.15" height="48.00" fill="#8dc885" stroke="#7cbf73" stroke-width="0.8"/>
<rect x="271.14" y="499.90" width="12.15" height="12.60" fill="#b3a0cf" stroke="#a793c6" stroke-width="0.8"/>
<rect x="292.50" y="343.30" width="12.15" height="169.20" fill="url(#rg)" stroke="#e04f55" stroke-width="0.8"/>
<rect x="305.45" y="456.30" width="12.15" height="56.20" fill="#8dc885" stroke="#7cbf73" stroke-width="0.8"/>
<rect x="318.40" y="498.30" width="12.15" height="14.20" fill="#b3a0cf" stroke="#a793c6" stroke-width="0.8"/>
<line x1="51.50" y1="512.50" x2="335.30" y2="512.50" stroke="#000" stroke-width="1.3" opacity="0.6"/>
<line x1="46.90" y1="512.50" x2="51.50" y2="512.50" stroke="#262626" stroke-width="1.3" />
<text x="44.20" y="515.90" font-size="10" font-weight="bold" text-anchor="end" fill="#111" >0.0</text>
<line x1="48.70" y1="499.01" x2="51.50" y2="499.01" stroke="#262626" stroke-width="1.3" />
<line x1="46.90" y1="485.51" x2="51.50" y2="485.51" stroke="#262626" stroke-width="1.3" />
<text x="44.20" y="488.91" font-size="10" font-weight="bold" text-anchor="end" fill="#111" >0.1</text>
<line x1="48.70" y1="472.02" x2="51.50" y2="472.02" stroke="#262626" stroke-width="1.3" />
<line x1="46.90" y1="458.53" x2="51.50" y2="458.53" stroke="#262626" stroke-width="1.3" />
<text x="44.20" y="461.93" font-size="10" font-weight="bold" text-anchor="end" fill="#111" >0.2</text>
<line x1="48.70" y1="445.04" x2="51.50" y2="445.04" stroke="#262626" stroke-width="1.3" />
<line x1="46.90" y1="431.54" x2="51.50" y2="431.54" stroke="#262626" stroke-width="1.3" />
<text x="44.20" y="434.94" font-size="10" font-weight="bold" text-anchor="end" fill="#111" >0.3</text>
<line x1="48.70" y1="418.05" x2="51.50" y2="418.05" stroke="#262626" stroke-width="1.3" />
<line x1="46.90" y1="404.56" x2="51.50" y2="404.56" stroke="#262626" stroke-width="1.3" />
<text x="44.20" y="407.96" font-size="10" font-weight="bold" text-anchor="end" fill="#111" >0.4</text>
<line x1="48.70" y1="391.06" x2="51.50" y2="391.06" stroke="#262626" stroke-width="1.3" />
<line x1="46.90" y1="377.57" x2="51.50" y2="377.57" stroke="#262626" stroke-width="1.3" />
<text x="44.20" y="380.97" font-size="10" font-weight="bold" text-anchor="end" fill="#111" >0.5</text>
<line x1="48.70" y1="364.08" x2="51.50" y2="364.08" stroke="#262626" stroke-width="1.3" />
<line x1="46.90" y1="350.59" x2="51.50" y2="350.59" stroke="#262626" stroke-width="1.3" />
<text x="44.20" y="353.99" font-size="10" font-weight="bold" text-anchor="end" fill="#111" >0.6</text>
<line x1="48.70" y1="337.09" x2="51.50" y2="337.09" stroke="#262626" stroke-width="1.3" />
<line x1="46.90" y1="323.60" x2="51.50" y2="323.60" stroke="#262626" stroke-width="1.3" />
<text x="44.20" y="327.00" font-size="10" font-weight="bold" text-anchor="end" fill="#111" >0.7</text>
<line x1="75.22" y1="512.50" x2="75.22" y2="517.30" stroke="#262626" stroke-width="1.3" />
<text x="75.22" y="528.00" font-size="10" font-weight="bold" text-anchor="middle" fill="#111" >0.13</text>
<line x1="122.48" y1="512.50" x2="122.48" y2="517.30" stroke="#262626" stroke-width="1.3" />
<text x="122.48" y="528.00" font-size="10" font-weight="bold" text-anchor="middle" fill="#111" >0.26</text>
<line x1="169.75" y1="512.50" x2="169.75" y2="517.30" stroke="#262626" stroke-width="1.3" />
<text x="169.75" y="528.00" font-size="10" font-weight="bold" text-anchor="middle" fill="#111" >0.4</text>
<line x1="217.00" y1="512.50" x2="217.00" y2="517.30" stroke="#262626" stroke-width="1.3" />
<text x="217.00" y="528.00" font-size="10" font-weight="bold" text-anchor="middle" fill="#111" >0.53</text>
<line x1="264.26" y1="512.50" x2="264.26" y2="517.30" stroke="#262626" stroke-width="1.3" />
<text x="264.26" y="528.00" font-size="10" font-weight="bold" text-anchor="middle" fill="#111" >0.67</text>
<line x1="311.52" y1="512.50" x2="311.52" y2="517.30" stroke="#262626" stroke-width="1.3" />
<text x="311.52" y="528.00" font-size="10" font-weight="bold" text-anchor="middle" fill="#111" >0.8</text>
<rect x="65" y="332.2" width="28" height="13.6" fill="url(#rg)" stroke="#e04f55" stroke-width="0.6"/>
<text x="95.80" y="343.90" font-size="12.7" font-weight="normal" text-anchor="start" fill="#1a1a1a" >O</text>
<rect x="65" y="347.3" width="28" height="13.6" fill="#8dc885" stroke="#7cbf73" stroke-width="0.6"/>
<text x="95.80" y="359.00" font-size="12.7" font-weight="normal" text-anchor="start" fill="#1a1a1a" >Ni</text>
<rect x="65" y="362.4" width="28" height="13.6" fill="#b3a0cf" stroke="#a793c6" stroke-width="0.6"/>
<text x="95.80" y="374.10" font-size="12.7" font-weight="normal" text-anchor="start" fill="#1a1a1a" >Mn</text>
<rect x="453.1" y="472.19" width="28.8" height="40.21" fill="#ec7a7c" stroke="#e86a6d" stroke-width="0.7"/>
<rect x="572.1" y="481.68" width="28" height="30.72" fill="#ec7a7c" stroke="#e86a6d" stroke-width="0.7"/>
<rect x="615.9" y="342.02" width="27.7" height="170.38" fill="#f5b97e" stroke="#f2ae6e" stroke-width="0.7"/>
<rect x="397.5" y="325.1" width="280.70" height="187.30" fill="none" stroke="#262626" stroke-width="1.3"/>
<line x1="392.10" y1="512.40" x2="397.50" y2="512.40" stroke="#262626" stroke-width="1.3" />
<text x="388.30" y="515.90" font-size="10.2" font-weight="bold" text-anchor="end" fill="#111" >0.0</text>
<line x1="393.90" y1="496.79" x2="397.50" y2="496.79" stroke="#262626" stroke-width="1.3" />
<line x1="392.10" y1="481.18" x2="397.50" y2="481.18" stroke="#262626" stroke-width="1.3" />
<text x="388.30" y="484.68" font-size="10.2" font-weight="bold" text-anchor="end" fill="#111" >0.5</text>
<line x1="393.90" y1="465.57" x2="397.50" y2="465.57" stroke="#262626" stroke-width="1.3" />
<line x1="392.10" y1="449.97" x2="397.50" y2="449.97" stroke="#262626" stroke-width="1.3" />
<text x="388.30" y="453.47" font-size="10.2" font-weight="bold" text-anchor="end" fill="#111" >1.0</text>
<line x1="393.90" y1="434.36" x2="397.50" y2="434.36" stroke="#262626" stroke-width="1.3" />
<line x1="392.10" y1="418.75" x2="397.50" y2="418.75" stroke="#262626" stroke-width="1.3" />
<text x="388.30" y="422.25" font-size="10.2" font-weight="bold" text-anchor="end" fill="#111" >1.5</text>
<line x1="393.90" y1="403.14" x2="397.50" y2="403.14" stroke="#262626" stroke-width="1.3" />
<line x1="392.10" y1="387.53" x2="397.50" y2="387.53" stroke="#262626" stroke-width="1.3" />
<text x="388.30" y="391.03" font-size="10.2" font-weight="bold" text-anchor="end" fill="#111" >2.0</text>
<line x1="393.90" y1="371.93" x2="397.50" y2="371.93" stroke="#262626" stroke-width="1.3" />
<line x1="392.10" y1="356.32" x2="397.50" y2="356.32" stroke="#262626" stroke-width="1.3" />
<text x="388.30" y="359.82" font-size="10.2" font-weight="bold" text-anchor="end" fill="#111" >2.5</text>
<line x1="393.90" y1="340.71" x2="397.50" y2="340.71" stroke="#262626" stroke-width="1.3" />
<line x1="392.10" y1="325.10" x2="397.50" y2="325.10" stroke="#262626" stroke-width="1.3" />
<text x="388.30" y="328.60" font-size="10.2" font-weight="bold" text-anchor="end" fill="#111" >3.0</text>
<line x1="467.60" y1="512.40" x2="467.60" y2="518.20" stroke="#262626" stroke-width="1.3" />
<text x="467.60" y="531.80" font-size="13.4" font-weight="bold" text-anchor="middle" fill="#111" >LNMO</text>
<line x1="608.20" y1="512.40" x2="608.20" y2="518.20" stroke="#262626" stroke-width="1.3" />
<text x="608.20" y="531.80" font-size="13.4" font-weight="bold" text-anchor="middle" fill="#111" >S-substituted LNMO</text>
<rect x="418.5" y="337.1" width="34.2" height="16.4" fill="#ec7a7c" stroke="#e86a6d" stroke-width="0.6"/>
<rect x="418.5" y="356.3" width="34.2" height="16.4" fill="#f5b97e" stroke="#f2ae6e" stroke-width="0.6"/>
<text x="456.90" y="350.90" font-size="16.4" font-weight="normal" text-anchor="start" fill="#1a1a1a" >O</text>
<text x="457.20" y="369.90" font-size="16.4" font-weight="normal" text-anchor="start" fill="#1a1a1a" >S</text>
<text x="421.00" y="390.00" font-size="14.75" font-weight="bold" text-anchor="start" fill="#111" >x = 0.8</text>
</svg>
</body></html>
